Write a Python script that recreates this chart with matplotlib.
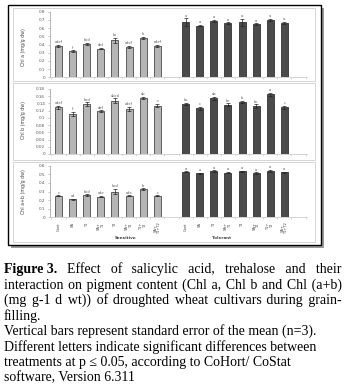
import matplotlib
matplotlib.use("Agg")
import matplotlib.pyplot as plt
from matplotlib.patches import Rectangle
import numpy as np

W, H = 346, 392
fig = plt.figure(figsize=(W / 100, H / 100), dpi=100)

treatments = ["Cont", "SA", "T1", "SA+\nT1", "T2", "SA+\nT2", "T1+\nT2", "SA+\nT1+T2"]
groups = ["Sensitive", "Tolerant"]

chla_sens = [0.385, 0.32, 0.41, 0.35, 0.45, 0.37, 0.48, 0.385]
chla_tol = [0.67, 0.63, 0.69, 0.66, 0.67, 0.65, 0.70, 0.66]
chla_err_sens = [0.01, 0.01, 0.01, 0.01, 0.03, 0.01, 0.01, 0.01]
chla_err_tol = [0.05, 0.01, 0.01, 0.01, 0.04, 0.01, 0.01, 0.015]
chla_let_sens = ["cdef", "f", "bcd", "def", "bc", "cdef", "b", "cdef"]
chla_let_tol = ["a", "a", "a", "a", "a", "a", "a", "a"]

chlb_sens = [0.129, 0.111, 0.138, 0.118, 0.148, 0.125, 0.155, 0.134]
chlb_tol = [0.138, 0.127, 0.154, 0.136, 0.145, 0.133, 0.165, 0.129]
chlb_err_sens = [0.004, 0.005, 0.005, 0.003, 0.006, 0.005, 0.004, 0.005]
chlb_err_tol = [0.003, 0.004, 0.004, 0.004, 0.003, 0.005, 0.004, 0.004]
chlb_let_sens = ["cdef", "f", "bcd", "def", "abcd", "cdef", "ab", "c"]
chlb_let_tol = ["bc", "c", "ab", "bc", "b", "bc", "a", "c"]

chlab_sens = [0.25, 0.21, 0.26, 0.24, 0.30, 0.25, 0.33, 0.25]
chlab_tol = [0.53, 0.51, 0.54, 0.52, 0.535, 0.515, 0.54, 0.523]
chlab_err_sens = [0.008, 0.008, 0.008, 0.008, 0.03, 0.008, 0.008, 0.008]
chlab_err_tol = [0.008, 0.008, 0.008, 0.008, 0.008, 0.008, 0.01, 0.008]
chlab_let_sens = ["c", "cd", "bcd", "cde", "bcd", "cde", "b", "c"]
chlab_let_tol = ["a", "a", "a", "a", "a", "a", "a", "a"]

panels = [
    ("Chl a (mg/g dw)", chla_sens, chla_tol, chla_err_sens, chla_err_tol,
     chla_let_sens, chla_let_tol, np.arange(0, 0.81, 0.1), 0.8),
    ("Chl b (mg/g dw)", chlb_sens, chlb_tol, chlb_err_sens, chlb_err_tol,
     chlb_let_sens, chlb_let_tol, np.arange(0, 0.181, 0.02), 0.18),
    ("Chl a+b (mg/g dw)", chlab_sens, chlab_tol, chlab_err_sens, chlab_err_tol,
     chlab_let_sens, chlab_let_tol, np.arange(0, 0.61, 0.1), 0.6),
]


def fx(px):
    return px / W


def fy(py):
    return 1 - py / H


def px_rect(x0, y0, x1, y1, **kw):
    r = Rectangle((fx(x0), fy(y1)), fx(x1) - fx(x0), fy(y0) - fy(y1),
                  transform=fig.transFigure, **kw)
    fig.add_artist(r)
    return r


# outer frame with drop shadow
px_rect(10.5, 8, 324, 248, facecolor="#9a9a9a", edgecolor="none", zorder=0)
px_rect(7.5, 5, 321, 245, facecolor="white", edgecolor="black", lw=1.0, zorder=0.1)

frames = [(7.5, 81), (83, 159.5), (161.5, 242)]
for top, bot in frames:
    px_rect(13, top, 315, bot, facecolor="none", edgecolor="#d4d4d4", lw=0.7, zorder=0.2)

axes_px = [(11.7, 77.3), (89, 154), (165.7, 217.3)]
ylab_y = [47, 120, 192]

pos_sens = np.arange(8)
pos_tol = np.arange(9, 17)

for k, ((ylab, s, t, es, et, ls, lt, yt, ymax), (top, bot), ly) in enumerate(
        zip(panels, axes_px, ylab_y)):
    ax = fig.add_axes([fx(50), fy(bot), fx(307) - fx(50), fy(top) - fy(bot)])
    ax.set_zorder(2)
    ax.patch.set_alpha(0)
    ax.bar(pos_sens, s, width=0.5, color="#b5b5b5", edgecolor="#4a4a4a", lw=0.6)
    ax.bar(pos_tol, t, width=0.5, color="#4b4b4b", edgecolor="#333333", lw=0.6)
    ax.errorbar(pos_sens, s, yerr=es, fmt="none", ecolor="#222222", elinewidth=0.5,
                capsize=1.2, capthick=0.5)
    ax.errorbar(pos_tol, t, yerr=et, fmt="none", ecolor="#222222", elinewidth=0.5,
                capsize=1.2, capthick=0.5)
    for xs, vals, errs, lets in [(pos_sens, s, es, ls), (pos_tol, t, et, lt)]:
        for x, v, e, l in zip(xs, vals, errs, lets):
            ax.text(x, v + e + ymax * 0.01, l, ha="center", va="bottom",
                    fontsize=2.6, color="#555555")
    ax.set_xlim(-0.6, 17.6)
    ax.set_ylim(0, ymax)
    ax.set_yticks(yt)
    ax.set_yticklabels(["0"] + ["%g" % round(v, 2) for v in yt[1:]],
                       fontsize=3, color="#555555")
    ax.tick_params(axis="y", length=1.5, width=0.4, color="#999999", pad=2)
    ax.set_xticks(np.arange(-0.5, 17.6, 1), minor=True)
    ax.set_xticks(list(pos_sens) + list(pos_tol))
    ax.tick_params(axis="x", which="major", length=0)
    ax.tick_params(axis="x", which="minor", length=1.2, width=0.4, color="#bbbbbb")
    if k == 2:
        ax.set_xticklabels(treatments * 2, rotation=90, fontsize=2.6,
                           color="#444444", linespacing=0.9)
    else:
        ax.set_xticklabels([])
    for sp in ["top", "right"]:
        ax.spines[sp].set_visible(False)
    ax.spines["left"].set_color("#aaaaaa")
    ax.spines["bottom"].set_color("#cccccc")
    ax.spines["left"].set_linewidth(0.6)
    ax.spines["bottom"].set_linewidth(0.6)
    fig.text(fx(24), fy(ly), ylab, rotation=90, ha="center", va="center",
             fontsize=3.4, color="#444444", zorder=3)

fig.text(fx(126), fy(238), groups[0], ha="center", va="center", fontsize=3,
         color="#444444", weight="bold", zorder=3)
fig.text(fx(222), fy(238), groups[1], ha="center", va="center", fontsize=3,
         color="#444444", weight="bold", zorder=3)

# caption below the figure box; the first three lines are justified
caption = [
    ("Effect of salicylic acid, trehalose and their", True),
    ("interaction on pigment content (Chl a, Chl b and Chl (a+b)", True),
    ("(mg g-1 d wt)) of droughted wheat cultivars during grain-", True),
    ("filling.", False),
    ("Vertical bars represent standard error of the mean (n=3).", False),
    ("Different letters indicate significant differences between", False),
    ("treatments at p \u2264 0.05, according to CoHort/ CoStat", False),
    ("software, Version 6.311", False),
]
cap_font = dict(family=["Liberation Serif", "DejaVu Serif"], fontsize=10,
                color="black", va="baseline", ha="left")
renderer = fig.canvas.get_renderer()
HAIR = "\u200a"


def text_width(s, **kw):
    t = fig.text(0, 0, s, **cap_font, **kw)
    w = t.get_window_extent(renderer).width
    t.remove()
    return w


hair_w = text_width("a" + HAIR * 10 + "a") - text_width("aa")
hair_w /= 10
x_left, x_right = 3.5, 341
for i, (line, justify) in enumerate(caption):
    base = 273.5 + i * 15.4
    x0 = x_left
    if i == 0:
        lab = "Figure 3."
        fig.text(fx(x0), fy(base), lab, weight="bold", **cap_font)
        x0 += text_width(lab + " ", weight="bold")
    if justify:
        words = line.split(" ")
        extra = (x_right - x0) - text_width(line)
        n_total = extra / hair_w
        if i == 0:
            n_total += 0
        gaps = len(words) - 1 + (1 if i == 0 else 0)
        per_gap = n_total / gaps
        acc = 0.0
        out = ""
        used = 0
        if i == 0:
            acc += per_gap
            n = int(round(acc)) - used
            used += n
            x0 += n * hair_w
        for j, w in enumerate(words):
            out += w
            if j < len(words) - 1:
                acc += per_gap
                n = int(round(acc)) - used
                used += n
                out += " " + HAIR * n
        line = out
    fig.text(fx(x0), fy(base), line, **cap_font)

fig.savefig("out.png", dpi=100)
